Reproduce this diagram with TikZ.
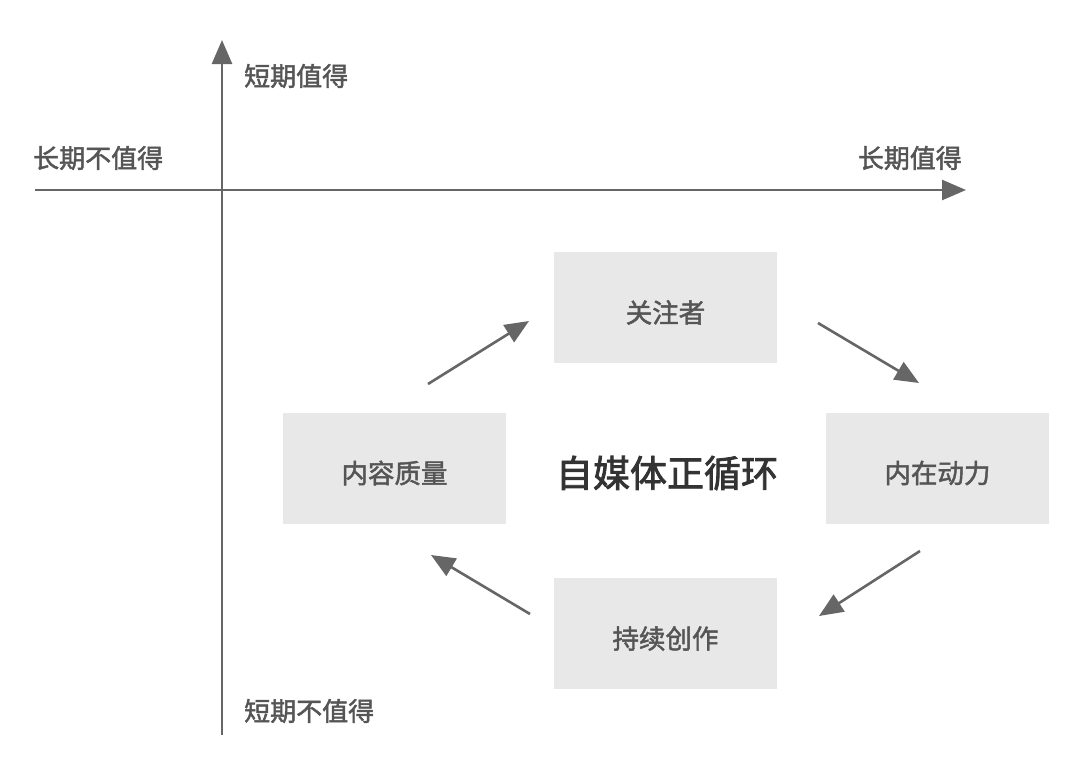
\documentclass[tikz,border=0pt]{standalone}
\usepackage{fontspec}
\setmainfont{Noto Sans CJK SC}
\newfontfamily\medfont{Noto Sans CJK SC}[FakeBold=1.8]
\newfontfamily\headfont{Noto Sans CJK SC}[FakeBold=2.2]
\usetikzlibrary{arrows.meta}
\definecolor{axisgray}{HTML}{666666}
\definecolor{labelgray}{HTML}{555555}
\definecolor{boxfill}{HTML}{E8E8E8}
\definecolor{titlegray}{HTML}{333333}
\begin{document}
\begin{tikzpicture}[x=1pt,y=-1pt,
  axisline/.style={draw=axisgray,line width=2.6pt,-{Triangle[length=24pt,width=20pt]}},
  flowarrow/.style={draw=axisgray,line width=2.6pt,-{Triangle[length=24pt,width=20pt]}},
  axislabel/.style={text=labelgray,font=\medfont\fontsize{26}{30}\selectfont,inner sep=0pt},
  stagebox/.style={fill=boxfill,draw=none,minimum width=223pt,minimum height=111pt,
    inner sep=0pt},
  stagetext/.style={text=labelgray,font=\medfont\fontsize{26.5}{30}\selectfont,inner sep=0pt},
  titletext/.style={text=titlegray,font=\headfont\fontsize{37}{42}\selectfont,inner sep=0pt}]
\useasboundingbox[fill=white] (0,0) rectangle (1080,769);

% axes
\coordinate (ybot) at (222,735);
\coordinate (ytop) at (222,40);
\coordinate (xleft) at (35,190);
\coordinate (xright) at (966,190);
\draw[axisline] (ybot) -- (ytop);
\draw[axisline] (xleft) -- (xright);

% axis labels
\node[axislabel,anchor=west] (shortyes) at (244,76) {短期值得};
\node[axislabel,anchor=west] (longno) at (33,158) {长期不值得};
\node[axislabel,anchor=east] (longyes) at (962,158) {长期值得};
\node[axislabel,anchor=west] (shortno) at (244,711) {短期不值得};

% cycle stages
\node[stagebox] (follow) at (665.5,307.5) {};
\node[stagebox] (quality) at (394.5,468) {};
\node[stagebox] (drive) at (937.5,468) {};
\node[stagebox] (create) at (665.5,633.5) {};
\node[stagetext] (followtext) at ([yshift=-5pt]follow.center) {关注者};
\node[stagetext] (qualitytext) at ([yshift=-5pt]quality.center) {内容质量};
\node[stagetext] (drivetext) at ([yshift=-5pt]drive.center) {内在动力};
\node[stagetext] (createtext) at ([yshift=-5pt]create.center) {持续创作};
\node[titletext] (cycle) at (667,473) {自媒体正循环};

% cycle arrows
\coordinate (q1) at (428,384);
\coordinate (f1) at (529,321);
\coordinate (f2) at (818,323);
\coordinate (d1) at (919,383);
\coordinate (d2) at (920,551);
\coordinate (c1) at (819,616);
\coordinate (c2) at (530,614);
\coordinate (q2) at (431,555);
\draw[flowarrow] (q1) -- (f1);
\draw[flowarrow] (f2) -- (d1);
\draw[flowarrow] (d2) -- (c1);
\draw[flowarrow] (c2) -- (q2);
\end{tikzpicture}
\end{document}
